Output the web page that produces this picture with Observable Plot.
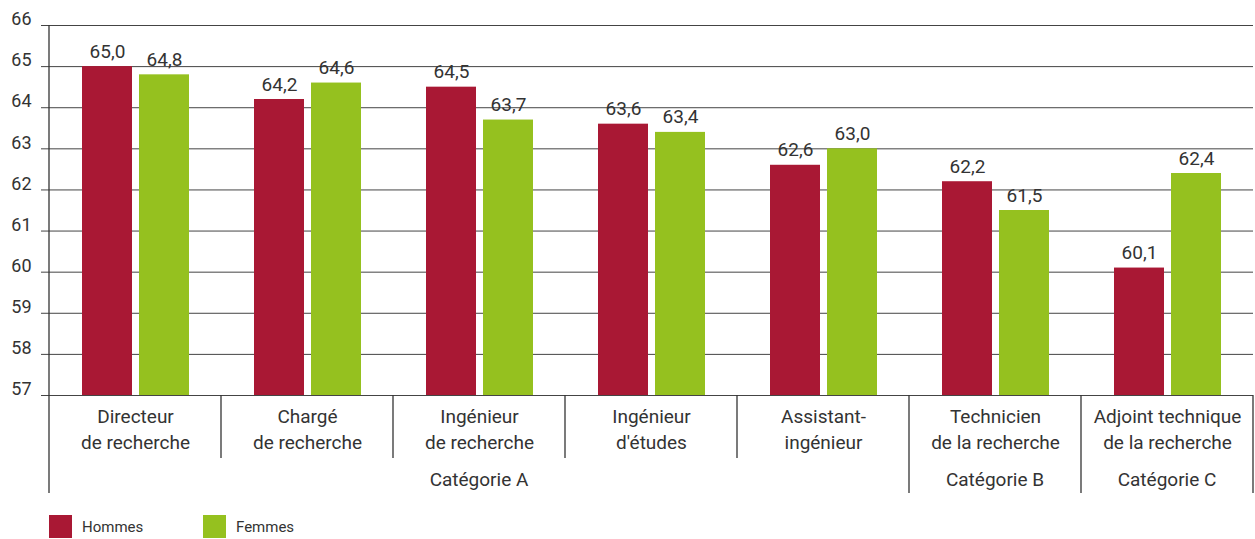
<!DOCTYPE html>
<html><head><meta charset="utf-8">
<script src="https://cdn.jsdelivr.net/npm/d3@7"></script>
<script src="https://cdn.jsdelivr.net/npm/@observablehq/plot@0.6"></script>
<style>
body{margin:0;background:#fff;font-family:Roboto,sans-serif;color:#333}
#legend{display:flex;margin:15px 0 0 49px;font-family:Roboto,sans-serif;font-size:15px;color:#333}
.item{display:flex;align-items:center;width:154px}
.sw{width:23px;height:23px;margin-right:10px;flex:none}
</style></head><body>
<div id="chart"></div>
<div id="legend"></div>
<script>
const categories = ["Directeur de recherche","Chargé de recherche","Ingénieur de recherche","Ingénieur d'études","Assistant-ingénieur","Technicien de la recherche","Adjoint technique de la recherche"];
const categoryLabels = ["Directeur\nde recherche","Chargé\nde recherche","Ingénieur\nde recherche","Ingénieur\nd'études","Assistant-\ningénieur","Technicien\nde la recherche","Adjoint technique\nde la recherche"];
const groups = ["Catégorie A","Catégorie A","Catégorie A","Catégorie A","Catégorie A","Catégorie B","Catégorie C"];
const series = ["Hommes","Femmes"];
const hommes = [65.0,64.2,64.5,63.6,62.6,62.2,60.1];
const femmes = [64.8,64.6,63.7,63.4,63.0,61.5,62.4];
const colors = ["#A91834","#95C11F"];
const yTicks = [57,58,59,60,61,62,63,64,65,66];
const yDomain = [57,66];

const rows = categories.flatMap((c,i)=>[
  {cat:c, sex:"Hommes", value:hommes[i]},
  {cat:c, sex:"Femmes", value:femmes[i]}
]);
const fmt = v => v.toFixed(1).replace(".", ",");

const chart = Plot.plot({
  width: 1255, height: 500,
  marginLeft: 49, marginRight: 2, marginTop: 25, marginBottom: 105,
  style: {fontFamily: "Roboto, sans-serif", color: "#333", background: "#fff", overflow: "visible"},
  fx: {domain: categories, padding: 0},
  x: {domain: series, paddingInner: 0.123, paddingOuter: 0.57, axis: null},
  y: {domain: yDomain},
  color: {domain: series, range: colors},
  marks: [
    Plot.gridY(yTicks, {stroke: "#444", strokeOpacity: 1, strokeWidth: 1}),
    Plot.axisY(yTicks, {tickSize: 8, stroke: "#444", tickFormat: () => "", label: null}),
    Plot.axisY(yTicks, {tickSize: 0, tickPadding: 18, fontSize: 18, dy: -6, tickFormat: d => String(d), label: null}),
    Plot.barY(rows, {fx: "cat", x: "sex", y1: yDomain[0], y2: "value", fill: "sex"}),
    Plot.text(rows, {fx: "cat", x: "sex", y: "value", text: d => fmt(d.value), lineAnchor: "bottom", dy: -9, fontSize: 19, fill: "#333"}),
    Plot.axisFx({anchor: "bottom", tickSize: 0, tickPadding: 9, fontSize: 19, lineHeight: 1.37, fill: "#333",
      tickFormat: d => categoryLabels[categories.indexOf(d)], label: null})
  ]
});
document.getElementById("chart").appendChild(chart);

// structural lines and group labels, placed with Plot's own scales
const svgEl = chart.tagName.toLowerCase() === "svg" ? chart : chart.querySelector("svg");
const svg = d3.select(svgEl);
let fxs = null, ys = null;
try { fxs = chart.scale("fx"); } catch(e) {}
try { ys = chart.scale("y"); } catch(e) {}
if (!fxs) fxs = {domain: categories, range: [49, 1253]};
if (!ys) ys = {range: [395, 25]};
const band = d3.scaleBand(fxs.domain, fxs.range).paddingInner(fxs.paddingInner || 0).paddingOuter(fxs.paddingOuter || 0);
const yBottom = Math.max(...ys.range), yTop = Math.min(...ys.range);
const g = svg.append("g").attr("stroke", "#333").attr("stroke-width", 1.3);
g.append("line").attr("x1", band.range()[0]).attr("x2", band.range()[0]).attr("y1", yTop).attr("y2", yBottom);
for (let i = 0; i <= categories.length; i++) {
  const x = i < categories.length ? band(categories[i]) : band(categories[i-1]) + band.bandwidth();
  const long = i === 0 || i === categories.length || groups[i] !== groups[i-1];
  g.append("line").attr("x1", x).attr("x2", x).attr("y1", yBottom).attr("y2", yBottom + (long ? 98 : 63));
}
const uniqueGroups = [...new Set(groups)];
for (const grp of uniqueGroups) {
  const cats = categories.filter((c,i) => groups[i] === grp);
  const x0 = band(cats[0]), x1 = band(cats[cats.length-1]) + band.bandwidth();
  svg.append("text").attr("x", (x0+x1)/2).attr("y", yBottom + 91).attr("text-anchor", "middle")
    .attr("font-size", 19).attr("font-family", "Roboto, sans-serif").attr("fill", "#333").text(grp);
}

// legend
const legend = d3.select("#legend");
series.forEach((s,i) => {
  const it = legend.append("div").attr("class","item");
  it.append("div").attr("class","sw").style("background", colors[i]);
  it.append("span").text(s);
});
</script>
</body></html>
